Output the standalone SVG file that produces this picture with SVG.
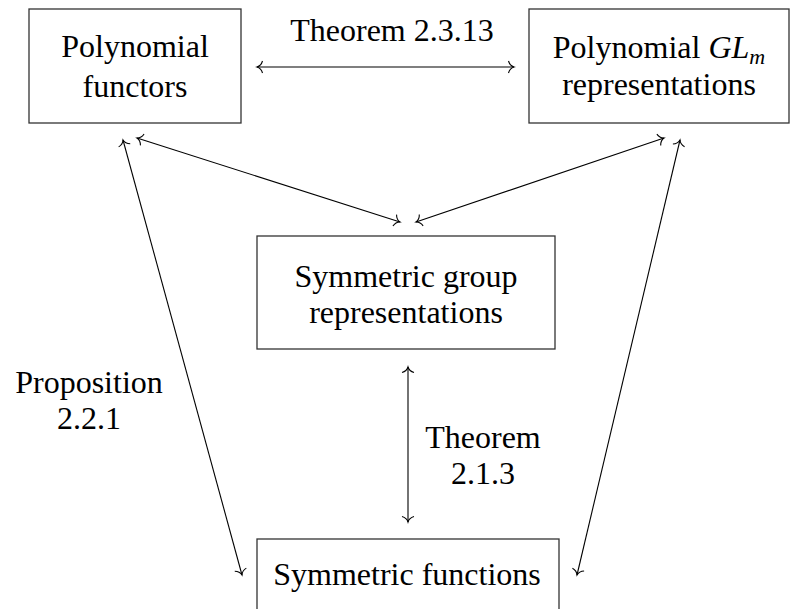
<svg xmlns="http://www.w3.org/2000/svg" width="791" height="609" viewBox="0 0 791 609">
<style>
.box{fill:none;stroke:#333;stroke-width:1.3}
.t{font-family:"Liberation Serif","Times New Roman",serif;font-size:32px;fill:#000;text-anchor:middle}
.c{fill:none;stroke:#000;stroke-width:1.1}
</style>
<defs>
<marker id="tip" markerUnits="userSpaceOnUse" viewBox="-8 -8 10 16" markerWidth="10" markerHeight="16" refX="0" refY="0" orient="auto-start-reverse">
<path d="M -5.5,-6 C -4.5,-2.5 -2,-0.6 0,0 C -2,0.6 -4.5,2.5 -5.5,6" fill="none" stroke="#000" stroke-width="1.1"/>
</marker>
</defs>
<rect width="791" height="609" fill="#fff"/>
<g id="poly-functors">
<rect class="box" x="29" y="9" width="212" height="114"/>
<text class="t"><tspan x="135" y="57">Polynomial</tspan><tspan x="135" y="97">functors</tspan></text>
</g>
<g id="poly-gl">
<rect class="box" x="529" y="9" width="260" height="114"/>
<text class="t"><tspan x="659" y="58">Polynomial <tspan font-style="italic">GL</tspan><tspan font-style="italic" font-size="22px" dy="6">m</tspan></tspan><tspan x="659" y="95">representations</tspan></text>
</g>
<g id="sym-group">
<rect class="box" x="257" y="236" width="298" height="113"/>
<text class="t"><tspan x="406" y="287">Symmetric group</tspan><tspan x="406" y="323">representations</tspan></text>
</g>
<g id="sym-functions">
<rect class="box" x="257" y="539" width="302" height="90"/>
<text class="t" x="407" y="585">Symmetric functions</text>
</g>
<g id="connectors">
<line class="c" x1="257" y1="67" x2="514" y2="67" marker-start="url(#tip)" marker-end="url(#tip)"/>
<line class="c" x1="137" y1="138" x2="400" y2="222" marker-start="url(#tip)" marker-end="url(#tip)"/>
<line class="c" x1="664" y1="138" x2="416" y2="222" marker-start="url(#tip)" marker-end="url(#tip)"/>
<line class="c" x1="408" y1="367" x2="408" y2="522" marker-start="url(#tip)" marker-end="url(#tip)"/>
<line class="c" x1="123" y1="140" x2="242" y2="575" marker-start="url(#tip)" marker-end="url(#tip)"/>
<line class="c" x1="680" y1="140" x2="577" y2="575" marker-start="url(#tip)" marker-end="url(#tip)"/>
</g>
<g id="labels">
<text class="t" x="392" y="41">Theorem 2.3.13</text>
<text class="t"><tspan x="483" y="448">Theorem</tspan><tspan x="483" y="484">2.1.3</tspan></text>
<text class="t"><tspan x="89" y="393">Proposition</tspan><tspan x="89" y="429">2.2.1</tspan></text>
</g>
</svg>
